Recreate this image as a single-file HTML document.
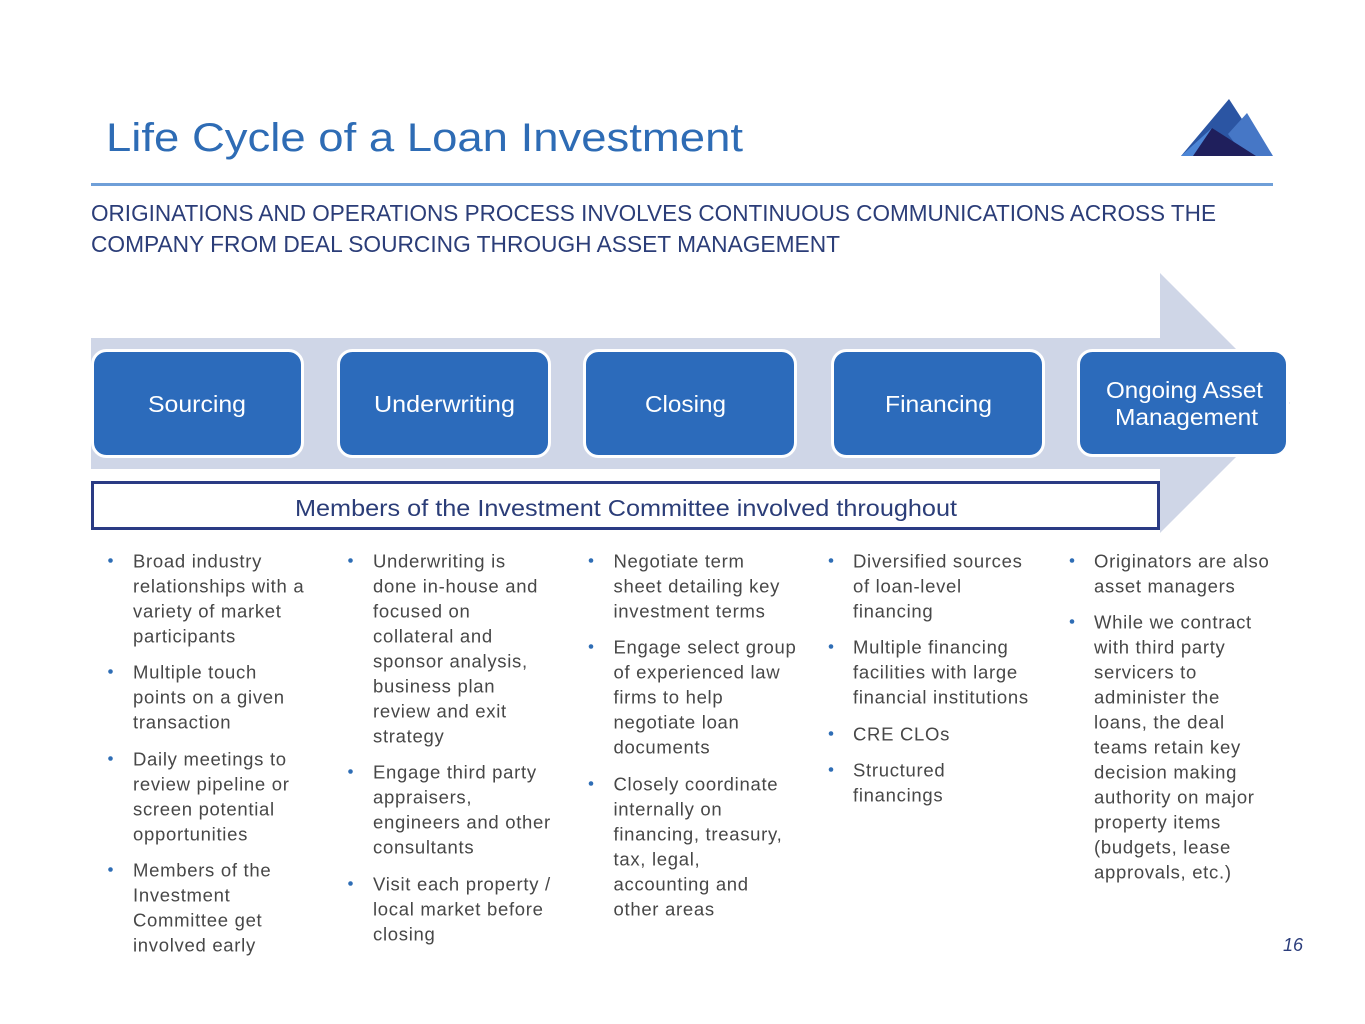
<!DOCTYPE html>
<html>
<head>
<meta charset="utf-8">
<style>
html,body{margin:0;padding:0;background:#fff;}
svg{display:block;}
.b{font-family:"Liberation Sans",sans-serif;font-size:18.5px;letter-spacing:0.7px;fill:#474747;}
.lbl{font-family:"Liberation Sans",sans-serif;font-size:23px;fill:#ffffff;}
</style>
</head>
<body>
<svg width="1365" height="1024" viewBox="0 0 1365 1024" xmlns="http://www.w3.org/2000/svg">
<rect width="1365" height="1024" fill="#ffffff"/>

<!-- Title -->
<text x="106" y="151" font-family="Liberation Sans, sans-serif" font-size="40" fill="#2e6cb5" textLength="637" lengthAdjust="spacingAndGlyphs">Life Cycle of a Loan Investment</text>

<!-- Logo -->
<polygon points="1181,156 1229,99 1266,156" fill="#2b55a3"/>
<polygon points="1247,113 1273,156 1244,156 1228,134" fill="#4677c6"/>
<polygon points="1181,156 1212,128 1196,156" fill="#4d86d6"/>
<polygon points="1193,156 1212,128 1256,156" fill="#1f1f5c"/>

<!-- Rule -->
<rect x="91" y="183" width="1182" height="3" fill="#6f9fd8"/>

<!-- Subtitle -->
<text x="91" y="221" font-family="Liberation Sans, sans-serif" font-size="23" fill="#2b3d78" textLength="1125" lengthAdjust="spacingAndGlyphs">ORIGINATIONS AND OPERATIONS PROCESS INVOLVES CONTINUOUS COMMUNICATIONS ACROSS THE</text>
<text x="91" y="252" font-family="Liberation Sans, sans-serif" font-size="23" fill="#2b3d78" textLength="749" lengthAdjust="spacingAndGlyphs">COMPANY FROM DEAL SOURCING THROUGH ASSET MANAGEMENT</text>

<!-- Arrow -->
<polygon points="91,338 1160,338 1160,273 1290,403 1160,533 1160,469 91,469" fill="#cfd6e7"/>

<!-- Boxes -->
<rect x="92.5" y="350.5" width="210" height="106" rx="14" fill="#2c6bbb" stroke="#ffffff" stroke-width="3"/>
<rect x="338.5" y="350.5" width="211" height="106" rx="14" fill="#2c6bbb" stroke="#ffffff" stroke-width="3"/>
<rect x="584.5" y="350.5" width="211" height="106" rx="14" fill="#2c6bbb" stroke="#ffffff" stroke-width="3"/>
<rect x="832.5" y="350.5" width="211" height="106" rx="14" fill="#2c6bbb" stroke="#ffffff" stroke-width="3"/>
<rect x="1078.5" y="350.5" width="209" height="105" rx="14" fill="#2c6bbb" stroke="#ffffff" stroke-width="3"/>

<text class="lbl" x="197" y="412" text-anchor="middle" textLength="98" lengthAdjust="spacingAndGlyphs">Sourcing</text>
<text class="lbl" x="444.5" y="412" text-anchor="middle" textLength="141" lengthAdjust="spacingAndGlyphs">Underwriting</text>
<text class="lbl" x="685.5" y="412" text-anchor="middle" textLength="81" lengthAdjust="spacingAndGlyphs">Closing</text>
<text class="lbl" x="938.5" y="412" text-anchor="middle" textLength="107" lengthAdjust="spacingAndGlyphs">Financing</text>
<text class="lbl" x="1184.5" y="398" text-anchor="middle" textLength="157" lengthAdjust="spacingAndGlyphs">Ongoing Asset</text>
<text class="lbl" x="1186.5" y="425" text-anchor="middle" textLength="143" lengthAdjust="spacingAndGlyphs">Management</text>

<!-- Members box -->
<rect x="92.5" y="482.5" width="1066" height="46" fill="#ffffff" stroke="#2a3b84" stroke-width="3"/>
<text x="295" y="516" font-family="Liberation Sans, sans-serif" font-size="23" fill="#2b3d78" textLength="662" lengthAdjust="spacingAndGlyphs">Members of the Investment Committee involved throughout</text>

<!-- Bullets -->
<g fill="#2e6db5">
<!-- col1 -->
<circle cx="110.5" cy="560.5" r="2.3"/>
<circle cx="110.5" cy="671.5" r="2.3"/>
<circle cx="110.5" cy="758.5" r="2.3"/>
<circle cx="110.5" cy="869.5" r="2.3"/>
<!-- col2 -->
<circle cx="350.5" cy="560.5" r="2.3"/>
<circle cx="350.5" cy="771.5" r="2.3"/>
<circle cx="350.5" cy="883.5" r="2.3"/>
<!-- col3 -->
<circle cx="591" cy="560.5" r="2.3"/>
<circle cx="591" cy="646.5" r="2.3"/>
<circle cx="591" cy="783.5" r="2.3"/>
<!-- col4 -->
<circle cx="831" cy="560.5" r="2.3"/>
<circle cx="831" cy="646.5" r="2.3"/>
<circle cx="831" cy="733.5" r="2.3"/>
<circle cx="831" cy="769.5" r="2.3"/>
<!-- col5 -->
<circle cx="1072" cy="560.5" r="2.3"/>
<circle cx="1072" cy="621.5" r="2.3"/>
</g>

<!-- Column 1 -->
<text class="b" x="133" y="567.5">Broad industry</text>
<text class="b" x="133" y="592.5">relationships with a</text>
<text class="b" x="133" y="617.5">variety of market</text>
<text class="b" x="133" y="642.5">participants</text>
<text class="b" x="133" y="678.5">Multiple touch</text>
<text class="b" x="133" y="703.5">points on a given</text>
<text class="b" x="133" y="728.5">transaction</text>
<text class="b" x="133" y="765.5">Daily meetings to</text>
<text class="b" x="133" y="790.5">review pipeline or</text>
<text class="b" x="133" y="815.5">screen potential</text>
<text class="b" x="133" y="840.5">opportunities</text>
<text class="b" x="133" y="876.5">Members of the</text>
<text class="b" x="133" y="901.5">Investment</text>
<text class="b" x="133" y="926.5">Committee get</text>
<text class="b" x="133" y="951.5">involved early</text>

<!-- Column 2 -->
<text class="b" x="373" y="567.5">Underwriting is</text>
<text class="b" x="373" y="592.5">done in-house and</text>
<text class="b" x="373" y="617.5">focused on</text>
<text class="b" x="373" y="642.5">collateral and</text>
<text class="b" x="373" y="667.5">sponsor analysis,</text>
<text class="b" x="373" y="692.5">business plan</text>
<text class="b" x="373" y="717.5">review and exit</text>
<text class="b" x="373" y="742.5">strategy</text>
<text class="b" x="373" y="778.5">Engage third party</text>
<text class="b" x="373" y="803.5">appraisers,</text>
<text class="b" x="373" y="828.5">engineers and other</text>
<text class="b" x="373" y="853.5">consultants</text>
<text class="b" x="373" y="890.5">Visit each property /</text>
<text class="b" x="373" y="915.5">local market before</text>
<text class="b" x="373" y="940.5">closing</text>

<!-- Column 3 -->
<text class="b" x="613.5" y="567.5">Negotiate term</text>
<text class="b" x="613.5" y="592.5">sheet detailing key</text>
<text class="b" x="613.5" y="617.5">investment terms</text>
<text class="b" x="613.5" y="653.5">Engage select group</text>
<text class="b" x="613.5" y="678.5">of experienced law</text>
<text class="b" x="613.5" y="703.5">firms to help</text>
<text class="b" x="613.5" y="728.5">negotiate loan</text>
<text class="b" x="613.5" y="753.5">documents</text>
<text class="b" x="613.5" y="790.5">Closely coordinate</text>
<text class="b" x="613.5" y="815.5">internally on</text>
<text class="b" x="613.5" y="840.5">financing, treasury,</text>
<text class="b" x="613.5" y="865.5">tax, legal,</text>
<text class="b" x="613.5" y="890.5">accounting and</text>
<text class="b" x="613.5" y="915.5">other areas</text>

<!-- Column 4 -->
<text class="b" x="853" y="567.5">Diversified sources</text>
<text class="b" x="853" y="592.5">of loan-level</text>
<text class="b" x="853" y="617.5">financing</text>
<text class="b" x="853" y="653.5">Multiple financing</text>
<text class="b" x="853" y="678.5">facilities with large</text>
<text class="b" x="853" y="703.5">financial institutions</text>
<text class="b" x="853" y="740.5">CRE CLOs</text>
<text class="b" x="853" y="776.5">Structured</text>
<text class="b" x="853" y="801.5">financings</text>

<!-- Column 5 -->
<text class="b" x="1094" y="567.5">Originators are also</text>
<text class="b" x="1094" y="592.5">asset managers</text>
<text class="b" x="1094" y="628.5">While we contract</text>
<text class="b" x="1094" y="653.5">with third party</text>
<text class="b" x="1094" y="678.5">servicers to</text>
<text class="b" x="1094" y="703.5">administer the</text>
<text class="b" x="1094" y="728.5">loans, the deal</text>
<text class="b" x="1094" y="753.5">teams retain key</text>
<text class="b" x="1094" y="778.5">decision making</text>
<text class="b" x="1094" y="803.5">authority on major</text>
<text class="b" x="1094" y="828.5">property items</text>
<text class="b" x="1094" y="853.5">(budgets, lease</text>
<text class="b" x="1094" y="878.5">approvals, etc.)</text>

<!-- Page number -->
<text x="1283" y="951" font-family="Liberation Sans, sans-serif" font-size="18" font-style="italic" fill="#2c3e7c">16</text>
</svg>
</body>
</html>
